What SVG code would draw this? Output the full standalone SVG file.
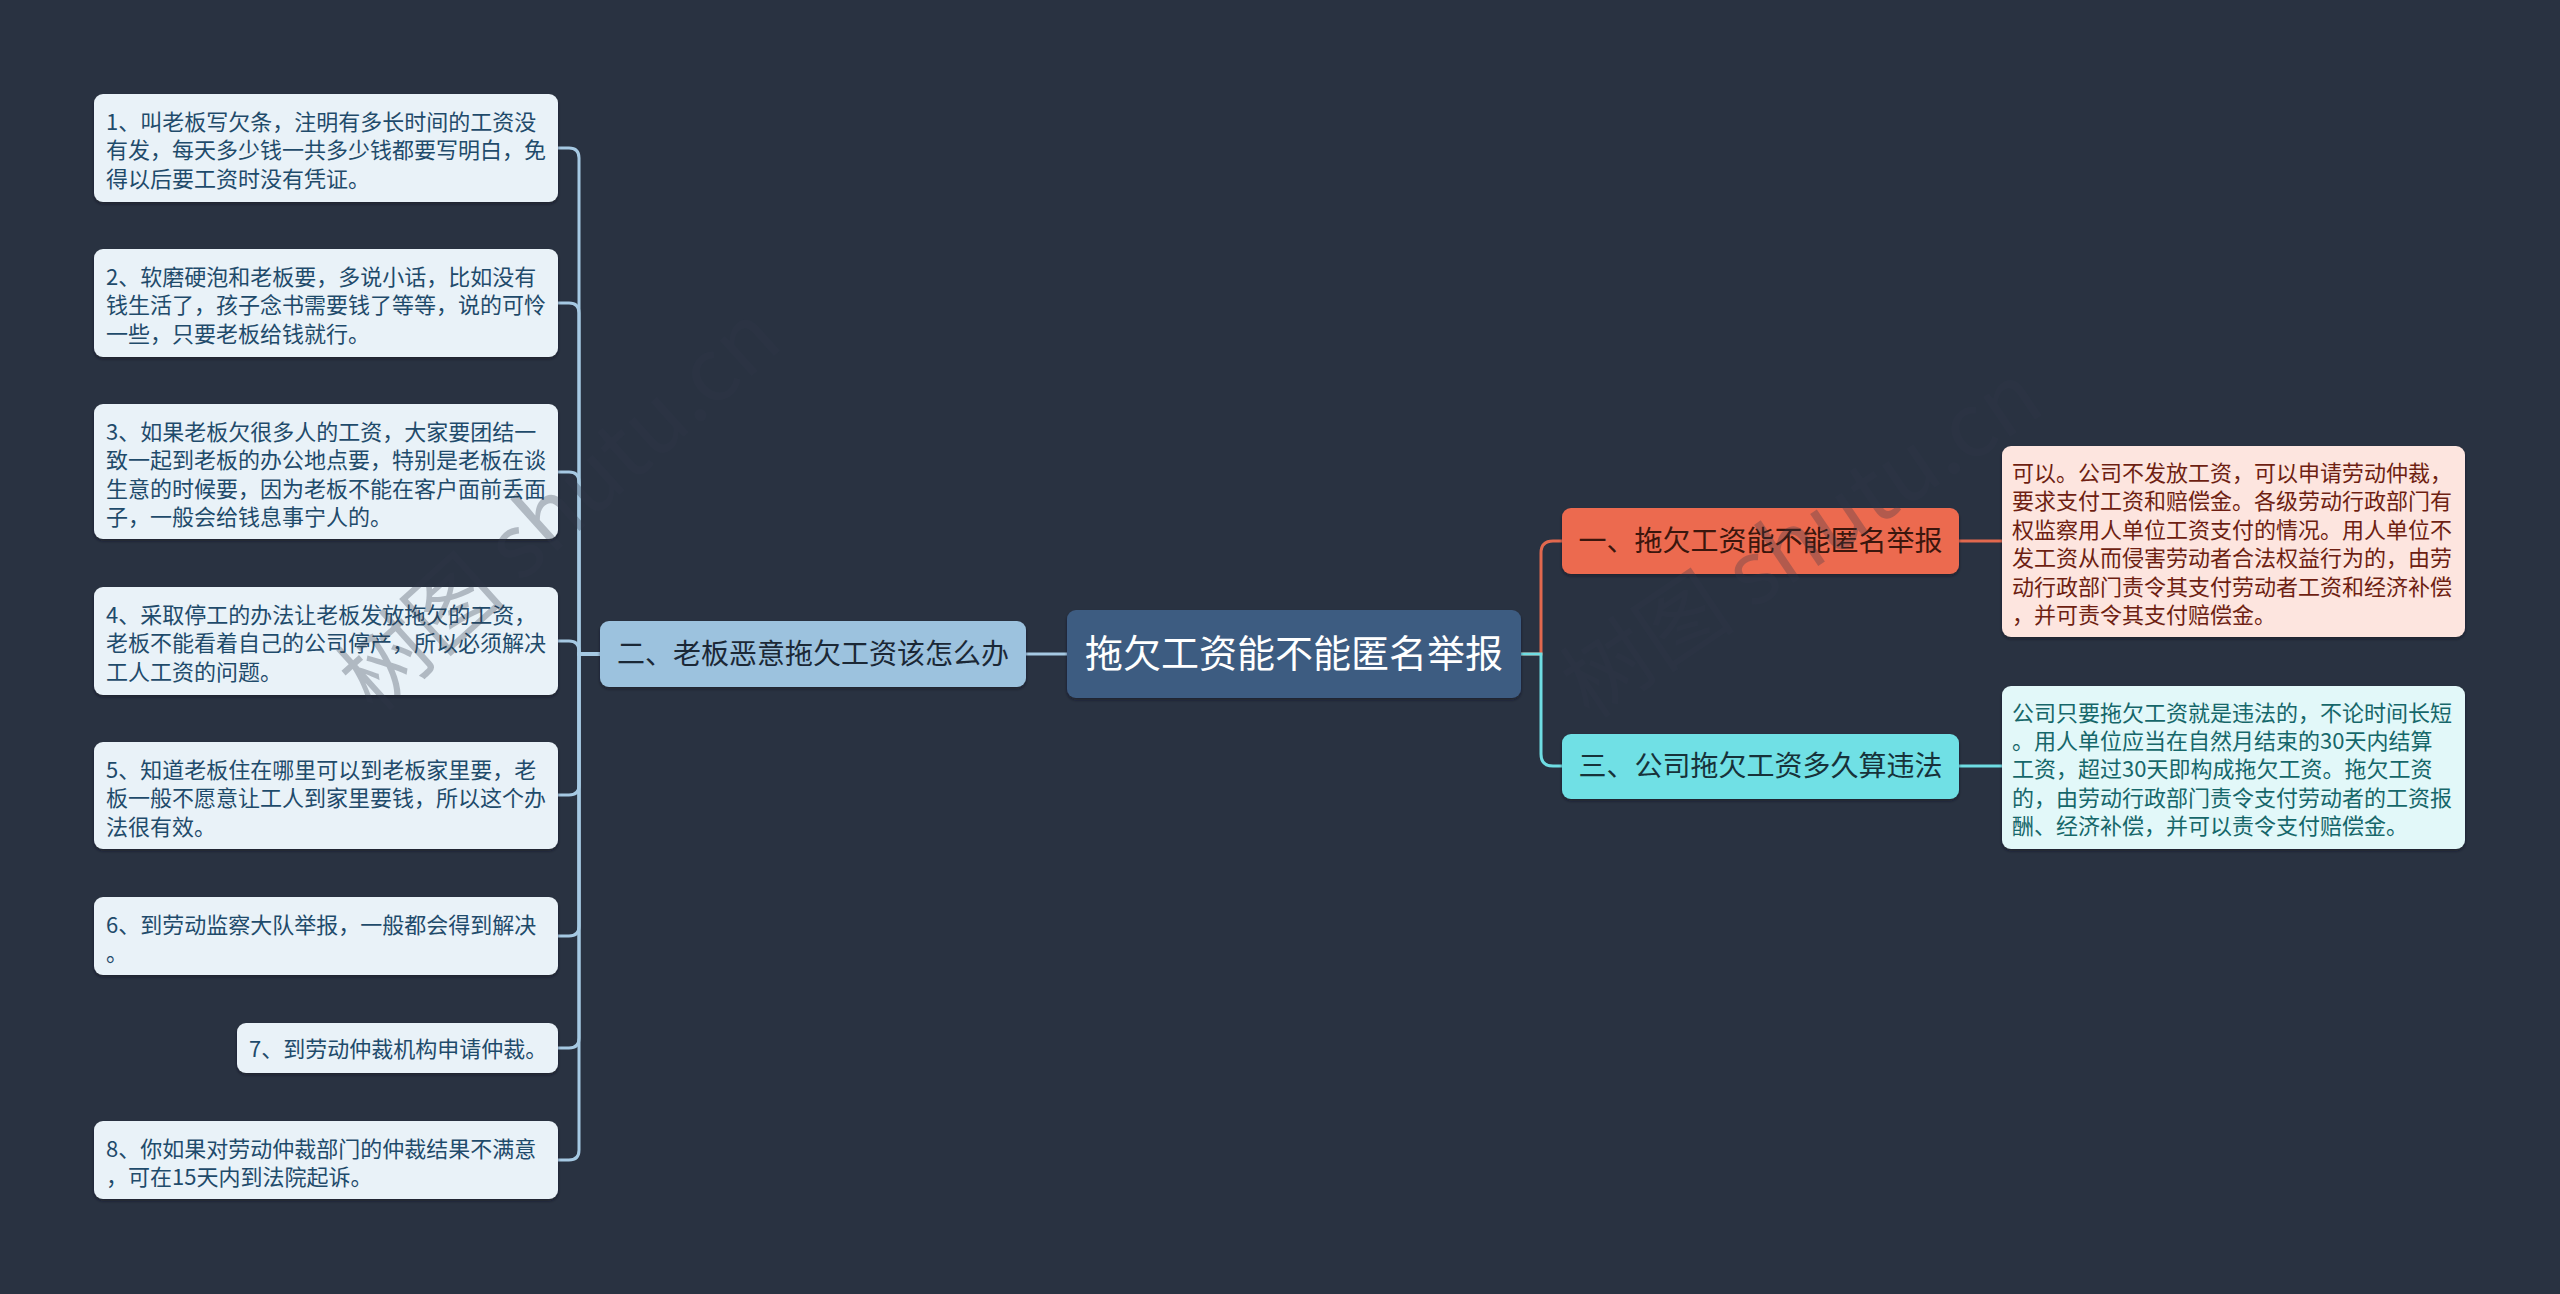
<svg xmlns="http://www.w3.org/2000/svg" width="2560" height="1294" viewBox="0 0 2560 1294">
<defs>
<filter id="sh" x="-5%" y="-10%" width="110%" height="130%">
<feDropShadow dx="0" dy="2" stdDeviation="1.5" flood-color="#10151d" flood-opacity="0.55"/>
</filter>
</defs>
<style>
text{font-family:"Noto Sans CJK SC","Noto Sans",sans-serif;}
.leafL rect{fill:#e9f2f8;filter:url(#sh);}
.leafL text{fill:#1f4b6b;font-size:22px;}
.b2 rect{fill:#9cc2de;filter:url(#sh);}
.b2 text{fill:#1b2836;font-size:28px;text-anchor:middle;}
.root rect{fill:#3e5b81;filter:url(#sh);}
.root text{fill:#ffffff;font-size:38px;text-anchor:middle;}
.b1 rect{fill:#ec6b50;filter:url(#sh);}
.b1 text{fill:#3b160d;font-size:28px;text-anchor:middle;}
.leaf1 rect{fill:#fde5df;filter:url(#sh);}
.leaf1 text{fill:#6e1f12;font-size:22px;}
.b3 rect{fill:#70e0e5;filter:url(#sh);}
.b3 text{fill:#17323a;font-size:28px;text-anchor:middle;}
.leaf3 rect{fill:#e2f8f9;filter:url(#sh);}
.leaf3 text{fill:#16676a;font-size:22px;}
.cl{fill:none;stroke:#a6c9e3;stroke-width:3;}
.co{fill:none;stroke:#e2684e;stroke-width:3;}
.cc{fill:none;stroke:#6fdde3;stroke-width:3;}
.wm{font-family:"Noto Sans CJK SC",sans-serif;font-size:88px;fill:#30384a;opacity:0.3;}
</style>
<rect x="0" y="0" width="2560" height="1294" fill="#293241"/>

<g id="connectors">
<path class="cl" d="M600 654 H579 V158 Q579 148 569 148 H558"/>
<path class="cl" d="M600 654 H579 V313 Q579 303 569 303 H558"/>
<path class="cl" d="M600 654 H579 V482 Q579 472 569 472 H558"/>
<path class="cl" d="M600 654 H579 V651 Q579 641 569 641 H558"/>
<path class="cl" d="M600 654 H579 V785 Q579 795 569 795 H558"/>
<path class="cl" d="M600 654 H579 V926 Q579 936 569 936 H558"/>
<path class="cl" d="M600 654 H579 V1038 Q579 1048 569 1048 H558"/>
<path class="cl" d="M600 654 H579 V1150 Q579 1160 569 1160 H558"/>
<path class="cl" d="M1067 654 H1026"/>
<path class="co" d="M1521 654 H1541 V553 Q1541 541 1553 541 H1562"/>
<path class="cc" d="M1521 654 H1541 V754 Q1541 766 1553 766 H1562"/>
<path class="co" d="M1959 541 H2002"/>
<path class="cc" d="M1959 766 H2002"/>
</g>

<g id="root" class="root">
<rect x="1067" y="610" width="454" height="88" rx="9"/>
<text x="1294" y="667">拖欠工资能不能匿名举报</text>
</g>

<g id="branch2" class="b2">
<rect x="600" y="621" width="426" height="66" rx="9"/>
<text x="813" y="664">二、老板恶意拖欠工资该怎么办</text>
</g>

<g id="leaf2-1" class="leafL">
<rect x="94" y="94" width="464" height="108" rx="9"/>
<text x="106" y="130">1、叫老板写欠条，注明有多长时间的工资没</text>
<text x="106" y="158.4">有发，每天多少钱一共多少钱都要写明白，免</text>
<text x="106" y="186.8">得以后要工资时没有凭证。</text>
</g>
<g id="leaf2-2" class="leafL">
<rect x="94" y="249" width="464" height="108" rx="9"/>
<text x="106" y="285">2、软磨硬泡和老板要，多说小话，比如没有</text>
<text x="106" y="313.4">钱生活了，孩子念书需要钱了等等，说的可怜</text>
<text x="106" y="341.8">一些，只要老板给钱就行。</text>
</g>
<g id="leaf2-3" class="leafL">
<rect x="94" y="404" width="464" height="135" rx="9"/>
<text x="106" y="440">3、如果老板欠很多人的工资，大家要团结一</text>
<text x="106" y="468.4">致一起到老板的办公地点要，特别是老板在谈</text>
<text x="106" y="496.8">生意的时候要，因为老板不能在客户面前丢面</text>
<text x="106" y="525.2">子，一般会给钱息事宁人的。</text>
</g>
<g id="leaf2-4" class="leafL">
<rect x="94" y="587" width="464" height="108" rx="9"/>
<text x="106" y="623">4、采取停工的办法让老板发放拖欠的工资，</text>
<text x="106" y="651.4">老板不能看着自己的公司停产，所以必须解决</text>
<text x="106" y="679.8">工人工资的问题。</text>
</g>
<g id="leaf2-5" class="leafL">
<rect x="94" y="742" width="464" height="107" rx="9"/>
<text x="106" y="778">5、知道老板住在哪里可以到老板家里要，老</text>
<text x="106" y="806.4">板一般不愿意让工人到家里要钱，所以这个办</text>
<text x="106" y="834.8">法很有效。</text>
</g>
<g id="leaf2-6" class="leafL">
<rect x="94" y="897" width="464" height="78" rx="9"/>
<text x="106" y="933">6、到劳动监察大队举报，一般都会得到解决</text>
<text x="106" y="961.4">。</text>
</g>
<g id="leaf2-7" class="leafL">
<rect x="237" y="1023" width="321" height="50" rx="9"/>
<text x="249" y="1057">7、到劳动仲裁机构申请仲裁。</text>
</g>
<g id="leaf2-8" class="leafL">
<rect x="94" y="1121" width="464" height="78" rx="9"/>
<text x="106" y="1157">8、你如果对劳动仲裁部门的仲裁结果不满意</text>
<text x="106" y="1185.4">，可在15天内到法院起诉。</text>
</g>

<g id="branch1" class="b1">
<rect x="1562" y="508" width="397" height="66" rx="9"/>
<text x="1760.5" y="551">一、拖欠工资能不能匿名举报</text>
</g>
<g id="leaf1" class="leaf1">
<rect x="2002" y="446" width="463" height="191" rx="9"/>
<text x="2012" y="481">可以。公司不发放工资，可以申请劳动仲裁，</text>
<text x="2012" y="509.4">要求支付工资和赔偿金。各级劳动行政部门有</text>
<text x="2012" y="537.8">权监察用人单位工资支付的情况。用人单位不</text>
<text x="2012" y="566.2">发工资从而侵害劳动者合法权益行为的，由劳</text>
<text x="2012" y="594.6">动行政部门责令其支付劳动者工资和经济补偿</text>
<text x="2012" y="623">，并可责令其支付赔偿金。</text>
</g>

<g id="branch3" class="b3">
<rect x="1562" y="734" width="397" height="65" rx="9"/>
<text x="1760.5" y="776">三、公司拖欠工资多久算违法</text>
</g>
<g id="leaf3" class="leaf3">
<rect x="2002" y="686" width="463" height="163" rx="9"/>
<text x="2012" y="720.5">公司只要拖欠工资就是违法的，不论时间长短</text>
<text x="2012" y="748.9">。用人单位应当在自然月结束的30天内结算</text>
<text x="2012" y="777.3">工资，超过30天即构成拖欠工资。拖欠工资</text>
<text x="2012" y="805.7">的，由劳动行政部门责令支付劳动者的工资报</text>
<text x="2012" y="834.1">酬、经济补偿，并可以责令支付赔偿金。</text>
</g>

<g id="watermark">
<text class="wm" transform="translate(375 715) rotate(-42)">树图 shutu.cn</text>
<text class="wm" transform="translate(1590 720) rotate(-34)">树图 shutu.cn</text>
</g>
</svg>
